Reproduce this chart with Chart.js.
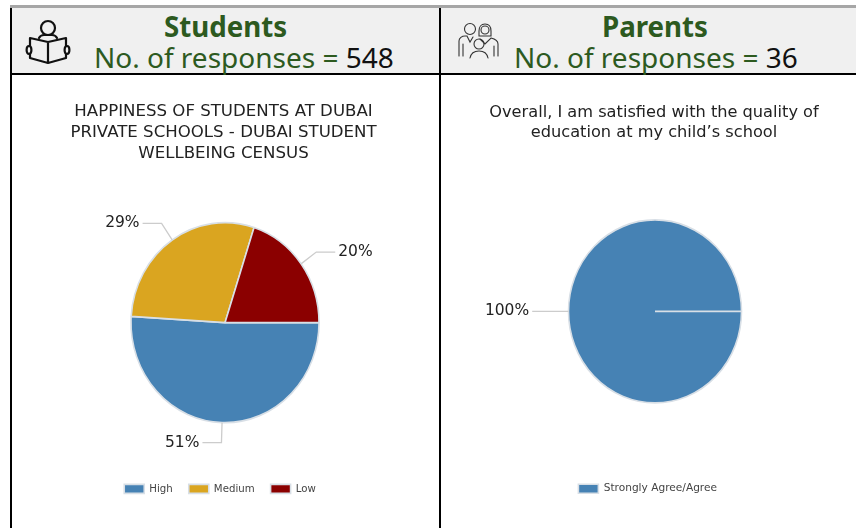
<!DOCTYPE html>
<html>
<head>
<meta charset="utf-8">
<script src="https://cdn.jsdelivr.net/npm/chart.js@4"></script>
<style>
html,body{margin:0;padding:0;background:#fff;width:856px;height:528px;overflow:hidden}
.abs{position:absolute}
.head{position:absolute;top:8px;height:65px;background:#f0f0f0}
.h{position:absolute;text-align:center;font-family:"Noto Sans",sans-serif;color:#2d5a1f;white-space:nowrap}
.t1{font-weight:700;font-size:27.7px;line-height:32px;top:10px}
.t2{font-size:28px;line-height:34px;top:40px}
.t2 b{font-weight:400;color:#111}
canvas{position:absolute}
</style>
</head>
<body>
<div class="abs" style="left:10px;top:5px;width:846px;height:3px;background:#a6a6a6"></div>
<div class="head" style="left:12px;width:427px"></div>
<div class="head" style="left:441px;width:415px"></div>
<div class="abs" style="left:10px;top:8px;width:2px;height:520px;background:#000"></div>
<div class="abs" style="left:439px;top:8px;width:2px;height:520px;background:#000"></div>
<div class="abs" style="left:10px;top:73px;width:846px;height:2px;background:#000"></div>

<svg class="abs" style="left:24px;top:18px" width="52" height="48" viewBox="0 0 52 48" fill="none" stroke="#111" stroke-width="2.2" stroke-linejoin="round" stroke-linecap="round">
  <circle cx="24" cy="10" r="7"/>
  <path d="M15 20c1-2 3-3 5-3h8c2 0 4 1 5 3"/>
  <path d="M24 24 L6 20 V28 M6 36 V40 L24 45 L42 40 V36 M42 28 V20 L24 24 V45"/>
  <ellipse cx="5" cy="32" rx="2.4" ry="4"/>
  <ellipse cx="43" cy="32" rx="2.4" ry="4"/>
</svg>
<svg class="abs" style="left:456px;top:20px" width="46" height="40" viewBox="0 0 46 40" fill="none" stroke="#333" stroke-width="1.1" stroke-linecap="round">
  <circle cx="14" cy="9" r="5.5"/>
  <path d="M3 36V21c0-3 3-5 6-5h2l3 6 3-5"/>
  <path d="M7 24V36"/>
  <path d="M29 4c4 0 6 3 6 7v5h-12v-5c0-4 2-7 6-7z"/>
  <circle cx="29" cy="10" r="4"/>
  <path d="M24 19l5 5 6-6c4 1 7 3 7 6v12M38 26V36"/>
  <circle cx="23" cy="24" r="5"/>
  <path d="M14 38c1-5 4-7 9-7s8 2 9 7"/>
</svg>

<div class="h t1" style="left:12px;width:427px">Students</div>
<div class="h t2" id="h1" style="left:94px">No. of responses = <b>548</b></div>
<div class="h t1" style="left:441px;width:428px">Parents</div>
<div class="h t2" id="h2" style="left:514px">No. of responses = <b>36</b></div>

<canvas id="c1" style="left:12px;top:75px" width="426" height="453"></canvas>
<canvas id="c2" style="left:454px;top:75px" width="402" height="453"></canvas>

<script>
const studentCategories = ["High", "Medium", "Low"];
const studentValues = [51, 29, 20];
const studentColors = ["#4682b4", "#daa520", "#8b0000"];
const studentTitle = ["HAPPINESS OF STUDENTS AT DUBAI", "PRIVATE SCHOOLS - DUBAI STUDENT", "WELLBEING CENSUS"];

const parentCategories = ["Strongly Agree/Agree"];
const parentValues = [100];
const parentColors = ["#4682b4"];
const parentTitle = ["Overall, I am satisfied with the quality of", "education at my child\u2019s school"];

const FONT = '"DejaVu Sans", Verdana, sans-serif';

const piePlugin = {
  id: 'piePlugin',
  afterLayout(chart, args, o) {
    const shift = (box, dx) => { if (box) { box.left += dx; box.right += dx; } };
    shift(chart.titleBlock, o.titleShift);
    shift(chart.legend, o.legendShift);
  },
  beforeDatasetsDraw(chart, args, o) {
    const a = chart.chartArea, cx = (a.left + a.right) / 2, cy = (a.top + a.bottom) / 2, c = chart.ctx;
    c.save(); c.translate(cx, cy); c.scale(1, o.stretch); c.translate(-cx, -cy);
  },
  afterDatasetsDraw(chart, args, o) {
    const c = chart.ctx;
    c.restore();
    const total = chart.data.datasets[0].data.reduce((s, v) => s + v, 0);
    chart.getDatasetMeta(0).data.forEach((arc, i) => {
      const mid = (arc.startAngle + arc.endAngle) / 2, r = arc.outerRadius;
      const dx = Math.cos(mid), dy = Math.sin(mid) * o.stretch;
      const x0 = arc.x + dx * r, y0 = arc.y + dy * r;
      const x1 = arc.x + dx * r * 1.2, y1 = arc.y + dy * r * 1.2;
      const side = dx >= 0 ? 1 : -1, x2 = x1 + side * 19;
      c.save();
      c.strokeStyle = '#cccccc'; c.lineWidth = 1.3;
      c.beginPath(); c.moveTo(x0, y0); c.lineTo(x1, y1); c.lineTo(x2, y1); c.stroke();
      c.fillStyle = '#222'; c.font = '15.5px ' + FONT;
      c.textBaseline = 'middle'; c.textAlign = side > 0 ? 'left' : 'right';
      const pct = Math.round(chart.data.datasets[0].data[i] / total * 100) + '%';
      c.fillText(pct, x2 + side * 3, y1);
      c.restore();
    });
  }
};

function makePie(id, labels, values, colors, title, radius, stretch, topPad, titleGap, bottomPad, titleShift, legendShift, titleSize, titleLine, legendSize, legendGap) {
  return new Chart(document.getElementById(id), {
    type: 'pie',
    data: { labels, datasets: [{ data: values, backgroundColor: colors, borderColor: '#d8dfe6', borderWidth: 1.6 }] },
    plugins: [piePlugin],
    options: {
      responsive: false, animation: false, radius, rotation: 90,
      layout: { padding: { top: topPad, bottom: bottomPad } },
      plugins: {
        tooltip: { enabled: false },
        piePlugin: { stretch, titleShift, legendShift },
        title: { display: true, text: title, color: '#222', align: 'center',
                 font: { family: FONT, size: titleSize, weight: 'normal', lineHeight: titleLine + 'px' }, padding: { top: 0, bottom: titleGap } },
        legend: { position: 'bottom',
                  labels: { boxWidth: 20, boxHeight: 9, padding: legendGap, color: '#444',
                            font: { family: FONT, size: legendSize } } }
      }
    }
  });
}

makePie('c1', studentCategories, studentValues, studentColors, studentTitle, 94, 1.064, 26, 13.5, 24, -1.5, -5, 16.6, 21, 10.2, 16);
makePie('c2', parentCategories, parentValues, parentColors, parentTitle, 86.5, 1.058, 28, 12.5, 24, -1, -7.3, 16.2, 20, 10.6, 16);
</script>
</body>
</html>
